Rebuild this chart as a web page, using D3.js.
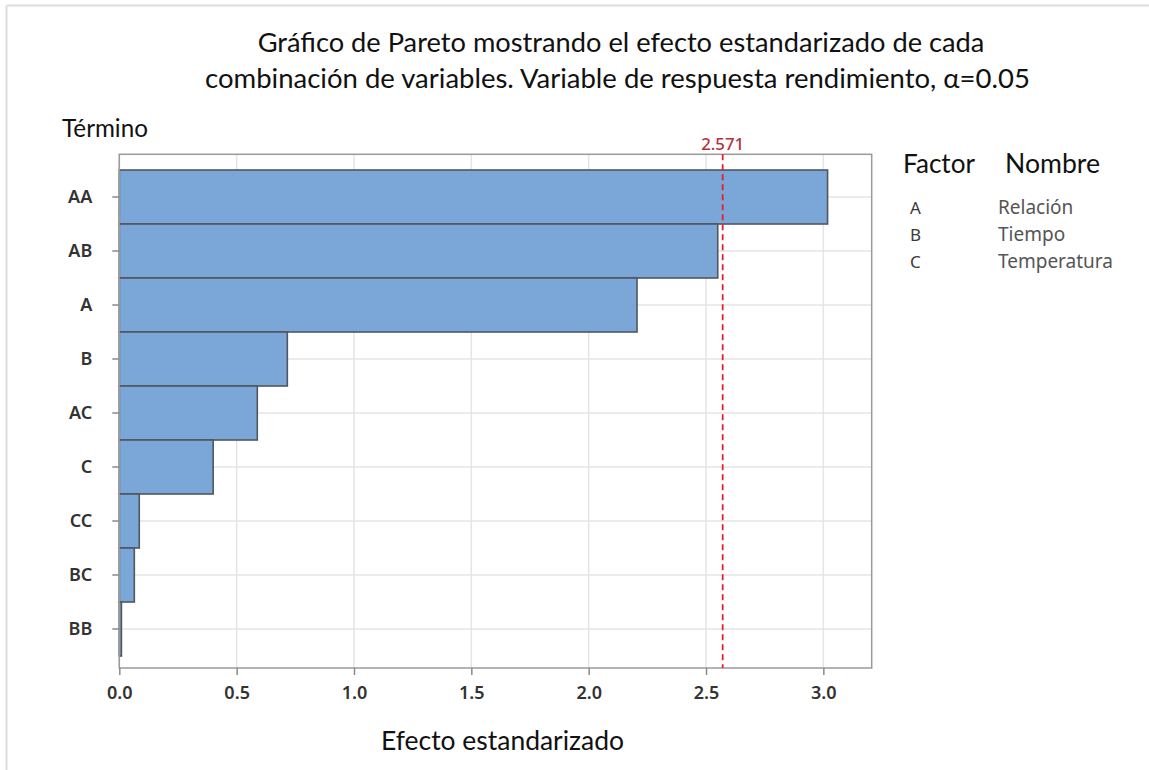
<!DOCTYPE html>
<html>
<head>
<meta charset="utf-8">
<script src="https://cdn.jsdelivr.net/npm/d3@7"></script>
<style>
  html, body { margin: 0; padding: 0; background: #fff; }
  svg { display: block; }
</style>
</head>
<body>
<svg id="chart" width="1149" height="770"></svg>
<script>
// Standardized effects, sorted largest first
const terms = ["AA", "AB", "A", "B", "AC", "C", "CC", "BC", "BB"];
const effects = [3.018, 2.55, 2.206, 0.716, 0.588, 0.40, 0.085, 0.064, 0.009];
const criticalValue = 2.571;
const xTicks = [0, 0.5, 1.0, 1.5, 2.0, 2.5, 3.0];
const factorCodes = ["A", "B", "C"];
const factorNames = ["Relación", "Tiempo", "Temperatura"];

const titleLines = [
  "Gráfico de Pareto mostrando el efecto estandarizado de cada",
  "combinación de variables. Variable de respuesta rendimiento, α=0.05"
];

const svg = d3.select("#chart");
const W = 1149, H = 770;

// Frame of the plot region
const frame = { left: 119.3, right: 871.7, top: 154.3, bottom: 668 };

const x = d3.scaleLinear().domain([0, 3.206]).range([frame.left, frame.right]);
const y = d3.scaleBand().domain(terms).range([170, 656]).padding(0);

const labelFont = "'Noto Sans', 'Open Sans', sans-serif";
const headFont = "Lato, 'Open Sans', sans-serif";

// Page border (light gray, top and left)
svg.append("line").attr("x1", 6.5).attr("x2", W).attr("y1", 5.5).attr("y2", 5.5)
  .attr("stroke", "#dcdcdc").attr("stroke-width", 2);
svg.append("line").attr("x1", 6.5).attr("x2", 6.5).attr("y1", 5.5).attr("y2", H)
  .attr("stroke", "#dcdcdc").attr("stroke-width", 2);

// Fit a text element to a target width by adjusting its font size
function fitWidth(sel, target, base) {
  sel.attr("font-size", base);
  const w = sel.node().getComputedTextLength();
  sel.attr("font-size", base * target / w);
}

// Title
const titleTargets = [{ cx: 621, w: 727, y: 52 }, { cx: 617.5, w: 825, y: 88 }];
titleLines.forEach((t, i) => {
  const el = svg.append("text")
    .attr("x", titleTargets[i].cx).attr("y", titleTargets[i].y)
    .attr("text-anchor", "middle").attr("font-family", headFont)
    .attr("fill", "#111").text(t);
  fitWidth(el, titleTargets[i].w, 22);
});

// Gridlines
const g = svg.append("g");
g.selectAll(".vgrid").data(xTicks).join("line")
  .attr("x1", d => x(d)).attr("x2", d => x(d))
  .attr("y1", frame.top).attr("y2", frame.bottom)
  .attr("stroke", "#e4e4e4").attr("stroke-width", 1.5);
g.selectAll(".hgrid").data(terms).join("line")
  .attr("x1", frame.left).attr("x2", frame.right)
  .attr("y1", d => y(d) + y.bandwidth() / 2).attr("y2", d => y(d) + y.bandwidth() / 2)
  .attr("stroke", "#e4e4e4").attr("stroke-width", 1.5);

// Bars
g.selectAll(".bar").data(terms).join("rect")
  .attr("x", x(0))
  .attr("y", d => y(d))
  .attr("width", (d, i) => x(effects[i]) - x(0))
  .attr("height", y.bandwidth())
  .attr("fill", "#7ba6d8")
  .attr("stroke", "#50575f")
  .attr("stroke-width", 1.6);

// Frame
svg.append("rect")
  .attr("x", frame.left).attr("y", frame.top)
  .attr("width", frame.right - frame.left).attr("height", frame.bottom - frame.top)
  .attr("fill", "none").attr("stroke", "#9a9a9a").attr("stroke-width", 1.5);

// Reference line for the critical t value
svg.append("line")
  .attr("x1", x(criticalValue)).attr("x2", x(criticalValue))
  .attr("y1", frame.top).attr("y2", frame.bottom)
  .attr("stroke", "#e0202a").attr("stroke-width", 1.8)
  .attr("stroke-dasharray", "6,4");
const critLabel = svg.append("text")
  .attr("x", x(criticalValue)).attr("y", 150)
  .attr("text-anchor", "middle").attr("font-family", labelFont)
  .attr("fill", "#b5303a").attr("font-weight", 500)
  .text(d3.format(".3f")(criticalValue));
fitWidth(critLabel, 43, 16);

// X axis
const xAxis = d3.axisBottom(x).tickValues(xTicks).tickFormat(d3.format(".1f"))
  .tickSize(7).tickPadding(11);
const xg = svg.append("g").attr("transform", `translate(0,${frame.bottom})`).call(xAxis);
xg.select(".domain").remove();
xg.selectAll(".tick line").attr("stroke", "#8a8a8a").attr("stroke-width", 1.5);
xg.selectAll(".tick text").attr("font-family", labelFont).attr("font-size", 18)
  .attr("fill", "#333").attr("font-weight", 600);

// Y axis
const yAxis = d3.axisLeft(y).tickSize(7).tickPadding(20);
const yg = svg.append("g").attr("transform", `translate(${frame.left},0)`).call(yAxis);
yg.select(".domain").remove();
yg.selectAll(".tick line").attr("stroke", "#8a8a8a").attr("stroke-width", 1.5);
yg.selectAll(".tick text").attr("font-family", labelFont).attr("font-size", 18)
  .attr("fill", "#333").attr("font-weight", 600);

// Axis titles
const yTitle = svg.append("text").attr("x", 62).attr("y", 137)
  .attr("font-family", headFont).attr("fill", "#111").text("Término");
fitWidth(yTitle, 86, 20);
const xTitle = svg.append("text").attr("x", 502.5).attr("y", 750)
  .attr("text-anchor", "middle").attr("font-family", headFont).attr("fill", "#111")
  .text("Efecto estandarizado");
fitWidth(xTitle, 243, 20);

// Factor legend
const fh = svg.append("text").attr("x", 903).attr("y", 173)
  .attr("font-family", headFont).attr("fill", "#111").text("Factor");
fitWidth(fh, 72, 21);
const nh = svg.append("text").attr("x", 1005).attr("y", 173)
  .attr("font-family", headFont).attr("fill", "#111").text("Nombre");
fitWidth(nh, 95, 21);

const legendRows = svg.append("g");
const nameEls = [];
factorCodes.forEach((c, i) => {
  const yy = 214 + i * 27;
  legendRows.append("text").attr("x", 910).attr("y", yy)
    .attr("font-family", labelFont).attr("font-size", 17).attr("fill", "#3a3a3a")
    .text(c);
  nameEls.push(legendRows.append("text").attr("x", 998).attr("y", yy)
    .attr("font-family", labelFont).attr("fill", "#555")
    .text(factorNames[i]));
});
// Size all names from the longest one
fitWidth(nameEls[2], 115, 16);
const nameSize = nameEls[2].attr("font-size");
nameEls.forEach(el => el.attr("font-size", nameSize));
</script>
</body>
</html>
